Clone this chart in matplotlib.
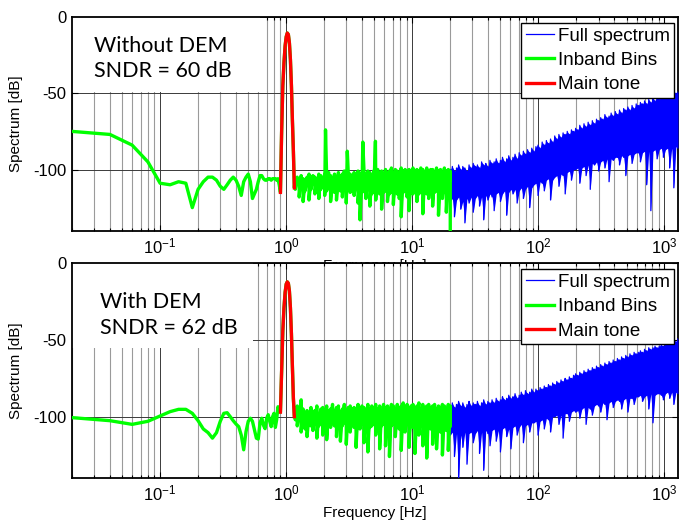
import numpy as np
import matplotlib
matplotlib.use("Agg")
import matplotlib.pyplot as plt
from matplotlib.patches import Rectangle
from matplotlib.ticker import LogLocator, FixedLocator, NullFormatter

plt.rcParams['font.family'] = ['Liberation Sans', 'DejaVu Sans']
plt.rcParams['axes.unicode_minus'] = False
plt.rcParams['mathtext.default'] = 'regular'

# bin spacing of the FFT [Hz]
df = 0.02
f_lo, f_hi = 0.02, 1280.0

# ---- Without DEM -------------------------------------------------------
# low-frequency inband bins 0.02 .. 0.88 Hz
low_a = [-75, -77, -84, -95, -109, -110, -108, -109, -125, -113,
         -108, -105, -105, -107, -111, -113, -110, -107, -105, -107,
         -111, -117, -108, -105, -103, -108, -119, -116, -113, -108,
         -104, -104, -106, -107, -107, -106, -106, -107, -106, -106,
         -106, -107, -106, -110]
# main tone bins 0.90 .. 1.16 Hz
tone_a = [-115, -75, -45, -30, -19, -13, -10.5, -11.5, -17, -28,
          -45, -68, -88, -112]
# inband noise 1.18 .. 20 Hz (upper / lower swing)
inb_top_a = [-107, -105, -108, -104, -106, -107, -105, -103, -106, -104,
             -105, -107, -103, -104, -106, -103, -105, -102, -104, -106,
             -103, -105, -102, -104, -103, -101, -104, -102, -103, -105,
             -102, -104, -101, -103, -102, -100, -103, -101, -102, -104,
             -101, -103, -100, -102, -101, -103, -100, -102, -101, -99,
             -102, -100, -101, -103, -99, -101, -100, -102, -100, -101,
             -99, -102, -100, -101, -99, -100, -102, -99, -101, -100,
             -100, -102, -99, -101, -100, -102, -99, -101, -100, -101]
inb_bot_a = [-113, -109, -118, -112, -121, -114, -110, -120, -113, -108,
             -116, -112, -119, -113, -111, -117, -114, -112, -121, -113,
             -115, -120, -113, -114, -118, -112, -122, -113, -115, -114,
             -117, -113, -122, -133, -115, -114, -119, -113, -124, -116,
             -115, -120, -114, -116, -126, -115, -114, -121, -116, -115,
             -123, -115, -116, -119, -131, -115, -114, -118, -127, -115,
             -116, -114, -121, -116, -115, -129, -114, -116, -119, -115,
             -124, -115, -114, -130, -116, -119, -115, -128, -117, -140]
# harmonics of the tone
harm_f = [2.05, 3.05, 4.05, 5.1]
harm_a = [-74, -88, -82, -81.5]
# out-of-band noise 20 .. 1280 Hz
oob_top_a = [-100, -98, -101, -99, -97, -100, -98, -99, -101, -97,
             -99, -96, -98, -97, -99, -95, -97, -96, -98, -94,
             -96, -95, -93, -96, -94, -92, -95, -93, -91, -94,
             -92, -90, -93, -89, -91, -88, -90, -87, -89, -86,
             -88, -85, -84, -86, -82, -84, -81, -83, -80, -82,
             -78, -80, -77, -79, -76, -77, -75, -77, -74, -75,
             -73, -74, -71, -73, -70, -72, -69, -71, -68, -70,
             -67, -68, -66, -67, -64, -66, -65, -63, -65, -62,
             -64, -61, -63, -60, -61, -59, -61, -58, -60, -57,
             -58, -56, -57, -55, -57, -54, -56, -53, -55, -52,
             -54, -52, -53, -51, -52, -50, -51, -49, -50, -49]
oob_bot_a = [-121, -119, -131, -120, -118, -126, -121, -135, -119, -122,
             -118, -128, -119, -117, -124, -118, -133, -117, -120, -116,
             -118, -127, -116, -115, -121, -116, -114, -130, -115, -113,
             -116, -113, -122, -114, -112, -119, -113, -111, -125, -112,
             -110, -109, -117, -108, -109, -114, -107, -106, -120, -107,
             -105, -104, -111, -103, -104, -116, -102, -101, -107, -100,
             -100, -99, -109, -99, -98, -104, -97, -113, -96, -97,
             -95, -101, -95, -94, -99, -93, -108, -93, -94, -92,
             -92, -97, -91, -92, -104, -91, -90, -96, -90, -89,
             -89, -95, -89, -88, -110, -88, -127, -88, -87, -93,
             -87, -86, -92, -87, -86, -99, -86, -112, -85, -86]

# ---- With DEM ----------------------------------------------------------
low_b = [-100.6, -102.6, -105, -103, -99.5, -96.7, -95.2, -95.2, -97.8, -102.6,
         -108, -110.4, -114, -110.4, -103, -97.8, -97.4, -100, -102.6, -104.8,
         -106.5, -112, -121.6, -109.7, -103, -101, -103, -108.6, -114, -114.6,
         -104, -101, -105.6, -107.8, -101, -98.7, -103, -106.5, -100, -97.8,
         -107, -102, -93.5, -96.7]
tone_b = [-97, -70, -44, -29, -19, -13.5, -12, -13, -18, -29,
          -46, -68, -88, -100]
inb_top_b = [-99, -93, -97, -89, -95, -100, -96, -98, -94, -97,
             -96, -93, -98, -95, -94, -97, -93, -96, -95, -92,
             -96, -94, -93, -97, -95, -92, -96, -94, -93, -95,
             -94, -96, -92, -95, -93, -94, -96, -92, -95, -93,
             -94, -92, -95, -93, -96, -92, -94, -93, -95, -92,
             -93, -95, -92, -94, -93, -91, -94, -92, -95, -93,
             -92, -94, -93, -91, -95, -92, -94, -93, -92, -94,
             -93, -92, -95, -93, -94, -92, -93, -95, -92, -93]
inb_bot_b = [-102, -106, -101, -110, -103, -108, -113, -105, -106, -109,
             -105, -114, -106, -104, -112, -106, -115, -105, -107, -104,
             -106, -113, -105, -116, -106, -104, -118, -106, -110, -105,
             -107, -120, -106, -108, -105, -117, -106, -123, -107, -106,
             -105, -112, -106, -121, -106, -105, -119, -107, -126, -106,
             -105, -113, -106, -108, -122, -106, -110, -105, -120, -106,
             -107, -124, -106, -112, -105, -119, -106, -127, -106, -108,
             -118, -106, -121, -107, -110, -125, -106, -109, -122, -106]
oob_top_b = [-93, -91, -94, -92, -90, -93, -91, -94, -92, -90,
             -93, -91, -92, -90, -93, -91, -89, -92, -90, -91,
             -89, -91, -88, -90, -89, -87, -89, -88, -86, -88,
             -87, -85, -88, -86, -84, -86, -83, -85, -84, -82,
             -84, -82, -83, -81, -82, -80, -81, -79, -80, -78,
             -79, -77, -78, -76, -77, -75, -76, -74, -75, -73,
             -72, -73, -71, -72, -70, -71, -69, -70, -68, -69,
             -67, -68, -66, -67, -65, -66, -64, -65, -63, -64,
             -62, -63, -61, -62, -60, -61, -59, -60, -58, -59,
             -58, -57, -58, -56, -57, -55, -56, -55, -54, -55,
             -54, -53, -54, -52, -53, -51, -52, -50, -51, -49]
oob_bot_b = [-112, -110, -126, -111, -140, -112, -120, -110, -131, -111,
             -110, -117, -111, -109, -124, -110, -135, -109, -111, -119,
             -109, -108, -116, -109, -123, -108, -107, -113, -108, -121,
             -107, -106, -112, -107, -105, -117, -106, -105, -110, -104,
             -104, -103, -112, -103, -102, -108, -101, -102, -110, -100,
             -100, -99, -105, -99, -114, -98, -98, -103, -97, -96,
             -97, -96, -101, -95, -94, -105, -94, -95, -99, -93,
             -92, -93, -97, -91, -92, -102, -91, -90, -94, -90,
             -89, -90, -95, -89, -88, -97, -88, -88, -92, -87,
             -87, -86, -90, -87, -86, -95, -85, -104, -86, -85,
             -85, -86, -89, -85, -84, -88, -84, -92, -84, -85]


def zigzag(f, top, bot):
    """alternate upper / lower readings at each frequency"""
    return np.repeat(f, 2), np.column_stack([top, bot]).ravel()


def build(low, tone, inb_top, inb_bot, oob_top, oob_bot, hf=(), ha=()):
    f_low = df * np.arange(1, len(low) + 1)
    f_tone = df * np.arange(len(low) + 1, len(low) + len(tone) + 1)
    f_inb = np.geomspace(1.18, 20.0, len(inb_top))
    f_oob = np.geomspace(20.0, f_hi, len(oob_top))

    fn, an = zigzag(f_inb, inb_top, inb_bot)
    fn = np.concatenate([fn, hf])
    an = np.concatenate([an, ha])
    order = np.argsort(fn, kind='stable')
    f_in = np.concatenate([f_low, f_tone, fn[order]])
    a_in = np.concatenate([low, tone, an[order]])
    fo, ao = zigzag(f_oob, oob_top, oob_bot)
    return dict(
        full=(np.concatenate([f_in, fo]), np.concatenate([a_in, ao])),
        inband=(f_in, a_in),
        tone=(f_tone, np.asarray(tone)),
        inb_band=(f_inb, inb_top, inb_bot),
        oob_band=(f_oob, oob_top, oob_bot),
    )


def draw(ax, d, title_lines, box, text_pos):
    blue, green, red = '#0000ff', '#00ff00', '#ff0000'
    ax.semilogx(*d['full'], color=blue, lw=0.9, label='Full spectrum', zorder=3)
    ax.fill_between(*d['oob_band'], color=blue, lw=0, zorder=3)
    ax.semilogx(*d['inband'], color=green, lw=2.4, label='Inband Bins', zorder=4)
    ax.fill_between(*d['inb_band'], color=green, lw=0, zorder=4)
    ax.semilogx(*d['tone'], color=red, lw=2.4, label='Main tone', zorder=5)
    ax.set_xlim(f_lo, f_hi)
    ax.set_ylim(-140, 0)

    ax.xaxis.set_major_locator(LogLocator(base=10, numticks=10))
    ax.xaxis.set_minor_locator(LogLocator(base=10, subs=np.arange(2, 10), numticks=20))
    ax.xaxis.set_minor_formatter(NullFormatter())
    ax.yaxis.set_major_locator(FixedLocator([-100, -50, 0]))
    ax.tick_params(which='both', direction='in', top=True, right=True,
                   labelsize=12, width=0.8, pad=4)
    ax.tick_params(which='major', length=4)
    ax.tick_params(which='minor', length=2.5)
    ax.grid(which='major', color='#3a3a3a', lw=0.7)
    ax.grid(which='minor', axis='x', color='#9a9a9a', lw=0.8)
    for s in ax.spines.values():
        s.set_linewidth(1.3)

    # white backing behind the annotation
    ax.add_patch(Rectangle((0, box[0]), box[1], 1 - box[0], transform=ax.transAxes,
                           facecolor='white', edgecolor='none', zorder=2))
    for (tx, ty), line in zip(text_pos, title_lines):
        ax.text(tx, ty, line, transform=ax.transAxes, fontfamily='Lato',
                fontsize=15.5, va='baseline', ha='left', zorder=6)

    ax.set_ylabel('Spectrum [dB]', fontsize=11, labelpad=7)
    ax.set_xlabel('Frequency [Hz]', fontsize=11, labelpad=2)
    leg = ax.legend(loc='upper right', bbox_to_anchor=(0.994, 0.973), borderaxespad=0,
                    fontsize=13.5, fancybox=False, framealpha=1, edgecolor='black',
                    handlelength=1.5, handletextpad=0.2, labelspacing=0.38,
                    borderpad=0.25)
    leg.get_frame().set_linewidth(1.0)
    leg.set_zorder(10)


fig = plt.figure(figsize=(6.81, 5.22), dpi=100)
ax1 = fig.add_axes([0.1057, 0.5584, 0.8899, 0.409])
ax2 = fig.add_axes([0.1057, 0.0843, 0.8899, 0.411])

draw(ax1, build(low_a, tone_a, inb_top_a, inb_bot_a, oob_top_a, oob_bot_a, harm_f, harm_a),
     ['Without DEM', 'SNDR = 60 dB'], (0.649, 0.31), [(0.037, 0.835), (0.037, 0.718)])
draw(ax2, build(low_b, tone_b, inb_top_b, inb_bot_b, oob_top_b, oob_bot_b),
     ['With DEM', 'SNDR = 62 dB'], (0.606, 0.299), [(0.046, 0.791), (0.046, 0.671)])

fig.savefig('out.png', dpi=100)
